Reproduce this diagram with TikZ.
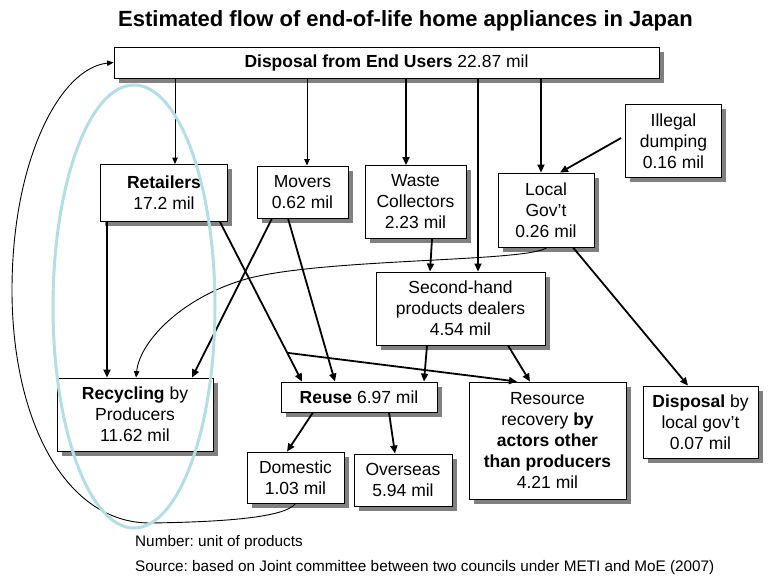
\documentclass[tikz,border=0pt]{standalone}
\usepackage{fontspec}
\setmainfont{Liberation Sans}
\usetikzlibrary{arrows.meta,shadows,calc}
\definecolor{ringblue}{RGB}{180,222,227}
\definecolor{shadowgray}{RGB}{128,128,128}
\frenchspacing
\begin{document}
\begin{tikzpicture}[x=1pt,y=-1pt,
  box/.style={draw=black, line width=0.9pt, fill=white, align=center, inner sep=0pt,
    font=\fontsize{17.5}{21}\selectfont,
    drop shadow={shadow xshift=4.5pt, shadow yshift=-4.5pt, fill=shadowgray, opacity=1}},
  flow/.style={line width=1.8pt, -{Triangle[length=8pt,width=7pt]}},
  thinflow/.style={line width=0.9pt, -{Triangle[length=6.5pt,width=5.5pt]}},
  ring/.style={draw=ringblue, line width=3pt},
  note/.style={anchor=base west, inner sep=0pt, font=\fontsize{15.3}{18}\selectfont}]
\useasboundingbox (0,0) rectangle (768,576);

% title
\node[font=\bfseries\fontsize{22}{26}\selectfont] (title) at (405.5,21) {Estimated flow of end-of-life home appliances in Japan};

% boxes
\node[box, minimum width=545pt, minimum height=31pt] (top) at (386.5,62.5) {\textbf{Disposal from End Users} 22.87 mil};
\node[box, minimum width=127pt, minimum height=57pt] (ret) at (164,193) {\textbf{Retailers}\\17.2 mil};
\node[box, minimum width=91pt, minimum height=52pt] (mov) at (302.5,192) {Movers\\0.62 mil};
\node[box, minimum width=101pt, minimum height=73pt] (wst) at (415.5,202) {Waste\\Collectors\\2.23 mil};
\node[box, minimum width=96pt, minimum height=74pt] (lgv) at (546,210) {Local\\Gov’t\\0.26 mil};
\node[box, minimum width=96pt, minimum height=73pt] (ill) at (673.5,141) {Illegal\\dumping\\0.16 mil};
\node[box, minimum width=169pt, minimum height=73pt] (shd) at (460.5,308.5) {Second-hand\\products dealers\\4.54 mil};
\node[box, minimum width=156pt, minimum height=73pt] (rec) at (135,414.5) {\textbf{Recycling} by\\Producers\\11.62 mil};
\node[box, minimum width=156pt, minimum height=30pt] (reu) at (359,397) {\textbf{Reuse} 6.97 mil};
\node[box, minimum width=157pt, minimum height=117pt] (rsr) at (547.5,440.5) {Resource\\recovery \textbf{by}\\\textbf{actors other}\\\textbf{than producers}\\4.21 mil};
\node[box, minimum width=115pt, minimum height=72pt] (dsp) at (700.5,422) {\textbf{Disposal} by\\local gov’t\\0.07 mil};
\node[box, minimum width=97pt, minimum height=51pt] (dom) at (295.5,477.5) {Domestic\\1.03 mil};
\node[box, minimum width=98pt, minimum height=52pt] (ovs) at (403,480) {Overseas\\5.94 mil};

% flows out of the disposal box
\coordinate (t1) at ([xshift=11pt]ret.north);
\coordinate (t2) at ([xshift=4.5pt]mov.north);
\coordinate (t3) at ([xshift=-9.5pt]wst.north);
\coordinate (t4) at ([xshift=17.5pt]shd.north);
\coordinate (t5) at ([xshift=-5pt]lgv.north);
\draw[thinflow] (t1 |- top.south) -- (t1);
\draw[thinflow] (t2 |- top.south) -- (t2);
\draw[flow] (t3 |- top.south) -- (t3);
\draw[flow] (t4 |- top.south) -- (t4);
\draw[flow] (t5 |- top.south) -- (t5);

% local government
\draw[flow] ([xshift=-4pt,yshift=3pt]ill.west) -- ([xshift=14pt]lgv.north);
\draw[flow] ([xshift=27pt]lgv.south) -- ([xshift=-12.5pt]dsp.north);
\draw[thinflow] ([xshift=1pt]lgv.south) .. controls (530,262) and (330,258) .. (250,278)
  .. controls (185,295) and (140,340) .. ([xshift=1pt]rec.north);

% waste collectors and second-hand dealers
\draw[flow] ([xshift=16.5pt]wst.south) -- ([xshift=-30.5pt]shd.north);
\draw[flow] ([xshift=-33.5pt]shd.south) -- ([xshift=65pt]reu.north);
\draw[flow] ([xshift=47.5pt]shd.south) -- ([xshift=-17.5pt]rsr.north);

% retailers
\draw[flow] ([xshift=-57pt]ret.south) -- ([xshift=-28pt]rec.north);
\coordinate (rA) at ([xshift=56pt]ret.south);
\coordinate (rB) at ([xshift=-57pt]reu.north);
\draw[flow] (rA) -- (rB);
\draw[flow] ($(rA)!0.82!(rB)$) -- ([xshift=-30.5pt]rsr.north);

% movers
\draw[flow] ([xshift=-30.5pt]mov.south) -- ([xshift=57pt]rec.north);
\draw[flow] ([xshift=-14.5pt]mov.south) -- ([xshift=-24pt]reu.north);

% reuse
\draw[flow] ([xshift=-46pt]reu.south) -- ([xshift=-8.5pt]dom.north);
\draw[flow] ([xshift=30pt]reu.south) -- ([xshift=-8pt]ovs.north);

% domestic reuse returns to end users
\draw[thinflow] (dom.south) .. controls (285,518) and (220,522) .. (150,523)
  .. controls (65,523) and (12,420) .. (12,290)
  .. controls (12,160) and (60,68) .. (top.west);

% highlight ring around the producers' recycling route
\draw[ring] (134,306.5) ellipse [x radius=81, y radius=221.5];

% notes
\node[note] (n1) at (135,546) {Number: unit of products};
\node[note] (n2) at (135,571) {Source: based on Joint committee between two councils under METI and MoE (2007)};
\end{tikzpicture}
\end{document}
